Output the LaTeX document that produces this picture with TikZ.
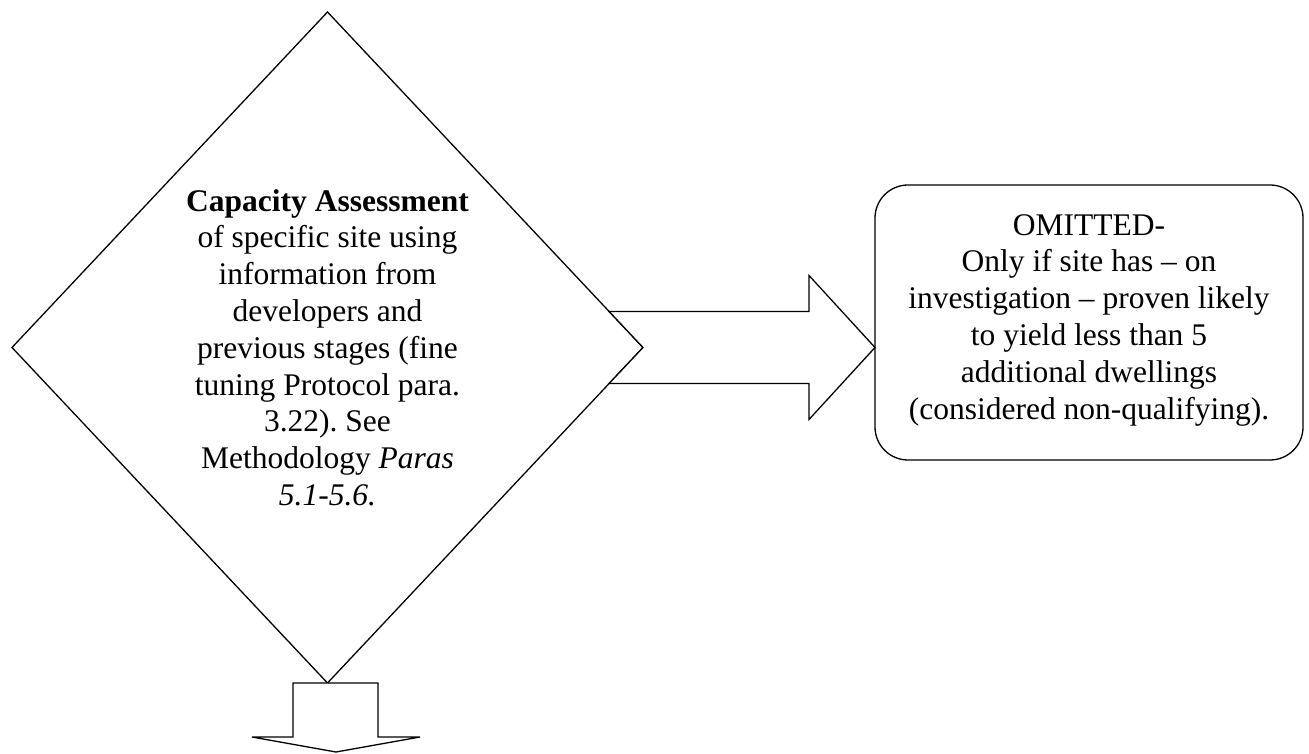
\documentclass[tikz,border=0pt]{standalone}
\usepackage{fontspec}
\setmainfont{Liberation Serif}
\usetikzlibrary{shapes.geometric,calc}
\begin{document}
\frenchspacing
\begin{tikzpicture}[x=1pt,y=1pt,
  shapeline/.style={draw=black, line width=1.3pt, line join=miter},
  blockarrow/.style={shapeline, fill=white},
  txt/.style={align=center, font=\fontsize{31.5}{36.8}\selectfont\frenchspacing, inner sep=0pt},
]
\useasboundingbox (0,0) rectangle (1309,753);
% decision diamond
\node[diamond, shapeline, fill=white, minimum width=631pt, minimum height=671pt,
      inner sep=0pt, outer sep=0pt] (d) at (327.5,405.5) {};
\node[txt] (dt) at (d.center) {\textbf{Capacity Assessment}\\of specific site using\\information from\\developers and\\previous stages (fine\\tuning Protocol para.\\3.22). See\\Methodology \textit{Paras}\\\textit{5.1-5.6.}};
% omitted box
\node[shapeline, rounded corners=33pt, minimum width=428pt, minimum height=275pt,
      inner sep=0pt, outer sep=0pt] (box) at (1089,430.5) {};
\node[txt] (bt) at ($(box.center)+(0,2.5)$) {OMITTED-\\Only if site has -- on\\investigation -- proven likely\\to yield less than 5\\additional dwellings\\(considered non-qualifying).};
% right block arrow
\coordinate (rtip) at (box.west |- d.east);
\draw[blockarrow] (d.east) -- ($(d.east)+(-33.9,36)$) -- (809,441.5) -- (809,477.5)
  -- (rtip) -- (809,333.5) -- (809,369.5) -- ($(d.east)+(-33.9,-36)$) -- cycle;
% down block arrow
\coordinate (dtip) at (336,1);
\draw[blockarrow] ($(d.south)+(-34.5,0)$) -- ($(d.south)+(50.5,0)$) -- (378,16) -- (420,16)
  -- (dtip) -- (252,16) -- (293,16) -- cycle;
\end{tikzpicture}
\end{document}
